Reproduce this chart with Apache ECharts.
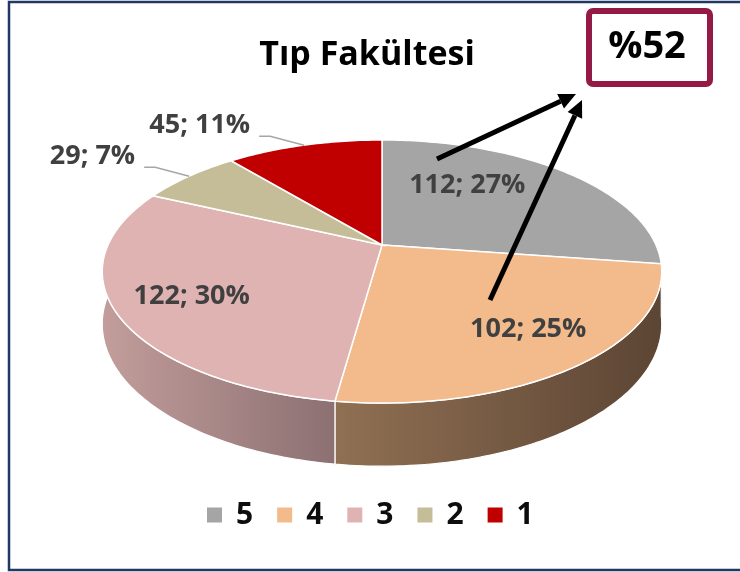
<!DOCTYPE html>
<html>
<head>
<meta charset="utf-8">
<script src="https://cdn.jsdelivr.net/npm/echarts@6/dist/echarts.min.js"></script>
<style>
  html, body { margin: 0; padding: 0; background: #fff; }
  #main { width: 740px; height: 572px; }
</style>
</head>
<body>
<div id="main"></div>
<script>
// slices, clockwise from 12 o'clock
const categories = ['5', '4', '3', '2', '1'];
const values = [112, 102, 122, 29, 45];
const topColors = ['#A5A5A5', '#F3BA8C', '#DEB3B2', '#C4BD97', '#C00000'];
const wallColors = [
  ['#8a8a8a', '#5f5f5f'],
  ['#907053', '#5C4534'],
  ['#C29D9B', '#8C7072'],
  ['#a39d7c', '#7a765d'],
  ['#a00000', '#700000']
];
const highlight = '%52';

const FONT = '"Open Sans", "Noto Sans", sans-serif';

// fake 3d pie: a tilted circle with a bit of perspective
const CX = 382, CY = 245, RX = 274, RY = 126.2, PERSP = 0.2015, DEPTH = 50.4;
function proj(t, r, down) {
  const a = t * Math.PI / 180;
  const X = r * Math.sin(a), Z = r * Math.cos(a);
  const d = 1 + PERSP * Z;
  return [CX + RX * X / d, CY - RY * Z / d + (down ? DEPTH / d : 0)];
}

const total = values.reduce((s, v) => s + v, 0);
const startDeg = [];
let acc = 0;
values.forEach(v => { startDeg.push(acc / total * 360); acc += v; });

// label tweaks (inside ones get nudged to where excel puts them)
const labelShift = [[-30, -14], [37, 17], [-37, 13], [0, 0], [0, 0]];

function arc(a, b, r, down) {
  const pts = [];
  for (let t = a; t < b; t += 1) pts.push(proj(t, r, down));
  pts.push(proj(b, r, down));
  return pts;
}

function renderSlice(params, api) {
  const i = params.seriesIndex;
  const v = api.value(0);
  const t0 = startDeg[i], t1 = t0 + v / total * 360;
  const children = [];

  // side wall, only the front half shows
  const a = Math.max(t0, 90), b = Math.min(t1, 270);
  if (b > a) {
    const pts = arc(a, b, 1, false).concat(arc(a, b, 1, true).reverse());
    children.push({
      type: 'polygon', z2: 1,
      shape: { points: pts },
      style: {
        fill: new echarts.graphic.LinearGradient(0, 0, 1, 0, [
          { offset: 0, color: wallColors[i][0] },
          { offset: 1, color: wallColors[i][1] }
        ]),
        stroke: '#fff', lineWidth: 1.2
      }
    });
  }

  // top face
  children.push({
    type: 'polygon', z2: 5,
    shape: { points: [proj(0, 0, false)].concat(arc(t0, t1, 1, false)) },
    style: { fill: topColors[i], stroke: '#fff', lineWidth: 1.5 }
  });

  const pct = Math.round(v / total * 100);
  const txt = v + '; ' + pct + '%';
  const mid = (t0 + t1) / 2;
  const font = 'bold 27px ' + FONT;
  if (v / total > 0.12) {
    const p = proj(mid, 0.6, false);
    children.push({
      type: 'text', z2: 10,
      x: p[0] + labelShift[i][0], y: p[1] + labelShift[i][1],
      style: { text: txt, fill: '#404040', font: font, align: 'center', verticalAlign: 'middle' }
    });
  } else {
    const e = proj(mid, 1, false);
    const elbow = [e[0] - 34, e[1] - 9];
    const tail = [elbow[0] - 11, elbow[1]];
    children.push({
      type: 'polyline', z2: 10,
      shape: { points: [e, elbow, tail] },
      style: { stroke: '#A6A6A6', lineWidth: 1.5, fill: null }
    });
    children.push({
      type: 'text', z2: 10,
      x: tail[0] - 9, y: elbow[1] - 11,
      style: { text: txt, fill: '#404040', font: font, align: 'right', verticalAlign: 'middle' }
    });
  }
  return { type: 'group', children: children };
}

function arrow(x1, y1, x2, y2) {
  const L = 17, W = 8;
  const dx = x2 - x1, dy = y2 - y1, len = Math.sqrt(dx * dx + dy * dy);
  const ux = dx / len, uy = dy / len;
  const bx = x2 - ux * L, by = y2 - uy * L;
  return [
    { type: 'line', z: 100, shape: { x1: x1, y1: y1, x2: bx, y2: by }, style: { stroke: '#000', lineWidth: 5 } },
    { type: 'polygon', z: 100, shape: { points: [[x2, y2], [bx - uy * W, by + ux * W], [bx + uy * W, by - ux * W]] }, style: { fill: '#000' } }
  ];
}

const series = categories.map((name, i) => ({
  type: 'custom',
  name: name,
  coordinateSystem: 'none',
  renderItem: renderSlice,
  itemStyle: { color: topColors[i] },
  data: [[values[i]]],
  silent: true
}));

const chart = echarts.init(document.getElementById('main'));
chart.setOption({
  backgroundColor: '#fff',
  animation: false,
  title: {
    text: 'Tıp Fakültesi',
    left: 362,
    textAlign: 'center',
    top: 33,
    textStyle: { fontSize: 34, fontWeight: 'bold', fontFamily: FONT, color: '#000' }
  },
  legend: {
    data: categories,
    left: 207,
    top: 500,
    padding: 0,
    icon: 'rect',
    itemWidth: 15,
    itemHeight: 15,
    itemGap: 24,
    textStyle: { fontSize: 30, fontWeight: 'bold', fontFamily: FONT, color: '#0d0d0d', padding: [0, 0, 0, 9] }
  },
  graphic: [
    { type: 'rect', z: 90, shape: { x: 9, y: 2, width: 740, height: 568 }, style: { fill: null, stroke: '#1F3864', lineWidth: 2.5 } },
    { type: 'rect', z: 100, shape: { x: 589, y: 11, width: 121, height: 73, r: 4 }, style: { fill: '#fff', stroke: '#941A46', lineWidth: 6 } },
    { type: 'text', z: 101, x: 647, y: 47, style: { text: highlight, font: 'bold 38px ' + FONT, fill: '#000', align: 'center', verticalAlign: 'middle' } }
  ].concat(arrow(437, 159, 576, 94), arrow(490, 300, 582, 100)),
  series: series
});
</script>
</body>
</html>
